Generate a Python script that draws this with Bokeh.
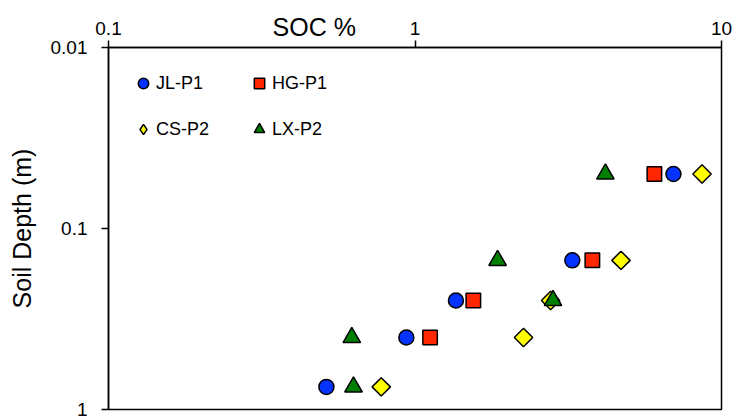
import numpy as np
from bokeh.plotting import figure
from bokeh.models import (Range1d, FixedTicker, Legend, LegendItem,
                          CustomJSTickFormatter)
from bokeh.embed import file_html
from bokeh.resources import INLINE

# ---- data ----
jl_depth = [0.05, 0.15, 0.25, 0.40, 0.75]
jl_soc = [6.97, 3.26, 1.36, 0.937, 0.514]

hg_depth = [0.05, 0.15, 0.25, 0.40]
hg_soc = [6.04, 3.79, 1.55, 1.12]

cs_depth = [0.05, 0.15, 0.25, 0.40, 0.75]
cs_soc = [8.64, 4.70, 2.77, 2.26, 0.776]

lx_depth = [0.05, 0.15, 0.25, 0.40, 0.75]
lx_soc = [4.18, 1.86, 2.82, 0.622, 0.630]

x_ticks = [0.1, 1, 10]
y_ticks = [0.01, 0.1, 1]

FONT = "Liberation Sans"
NBSP = "\u00a0"

W, H = 739, 417
p = figure(width=W, height=H, output_backend="svg", toolbar_location=None,
           x_axis_type="log", y_axis_type="log",
           x_range=Range1d(0.1, 10), y_range=Range1d(1, 0.01),
           x_axis_location="above",
           min_border_left=108, min_border_right=18,
           min_border_top=47, min_border_bottom=8)

p.grid.visible = False
p.outline_line_color = "black"
p.outline_line_width = 1.5
p.background_fill_color = "white"
p.border_fill_color = "white"

fmt = CustomJSTickFormatter(code="return tick.toString();")

for ax, ticks in ((p.xaxis[0], x_ticks), (p.yaxis[0], y_ticks)):
    ax.ticker = FixedTicker(ticks=ticks, minor_ticks=[])
    ax.formatter = fmt
    ax.axis_line_color = "black"
    ax.axis_line_width = 1.5
    ax.major_tick_line_color = "black"
    ax.major_tick_line_width = 1.5
    ax.major_tick_in = 0
    ax.major_tick_out = 7
    ax.minor_tick_line_color = None
    ax.major_label_text_font = FONT
    ax.major_label_text_font_size = "19px"
    ax.major_label_text_color = "black"
    ax.axis_label_text_font = FONT
    ax.axis_label_text_font_size = "25px"
    ax.axis_label_text_font_style = "normal"
    ax.axis_label_text_color = "black"

p.xaxis.major_label_standoff = 6
p.yaxis.major_label_standoff = 14

# top axis title sits in the tick-label row, left of the "1" tick:
# trailing no-break spaces move the visible words off the axis centre
p.xaxis.axis_label = "SOC %" + NBSP * 29
p.xaxis.axis_label_standoff = -22

p.yaxis.axis_label = "Soil Depth (m)"
p.yaxis.axis_label_standoff = 12

# legend key for CS-P2 (legend markers are drawn unrotated, so a true
# diamond is used for the key); it lies hidden under the rotated squares
r_cs_key = p.scatter(cs_soc, cs_depth, marker="diamond", size=12,
                     fill_color="#ffff00", line_color="black", line_width=1.5)
r_jl = p.scatter(jl_soc, jl_depth, marker="circle", size=15,
                 fill_color="#0433ff", line_color="black", line_width=1.5)
r_hg = p.scatter(hg_soc, hg_depth, marker="square", size=14.5,
                 fill_color="#ff2600", line_color="black", line_width=1.5)
r_cs = p.scatter(cs_soc, cs_depth, marker="square", size=13, angle=np.pi / 4,
                 fill_color="#ffff00", line_color="black", line_width=1.5)
r_lx = p.scatter(lx_soc, lx_depth, marker="triangle", size=17.5,
                 fill_color="#008000", line_color="black", line_width=1.5)

legend = Legend(items=[LegendItem(label="JL-P1", renderers=[r_jl]),
                       LegendItem(label="HG-P1", renderers=[r_hg]),
                       LegendItem(label="CS-P2", renderers=[r_cs_key]),
                       LegendItem(label="LX-P2", renderers=[r_lx])],
                location=(22, 267), orientation="horizontal", ncols=2,
                glyph_width=26, glyph_height=26, label_standoff=0,
                label_width=70, spacing=20, padding=0, margin=0,
                border_line_color=None, background_fill_alpha=0,
                label_text_font=FONT, label_text_font_size="18px",
                label_text_color="black")
p.add_layout(legend)

open("out.html", "w").write(file_html(p, INLINE))
